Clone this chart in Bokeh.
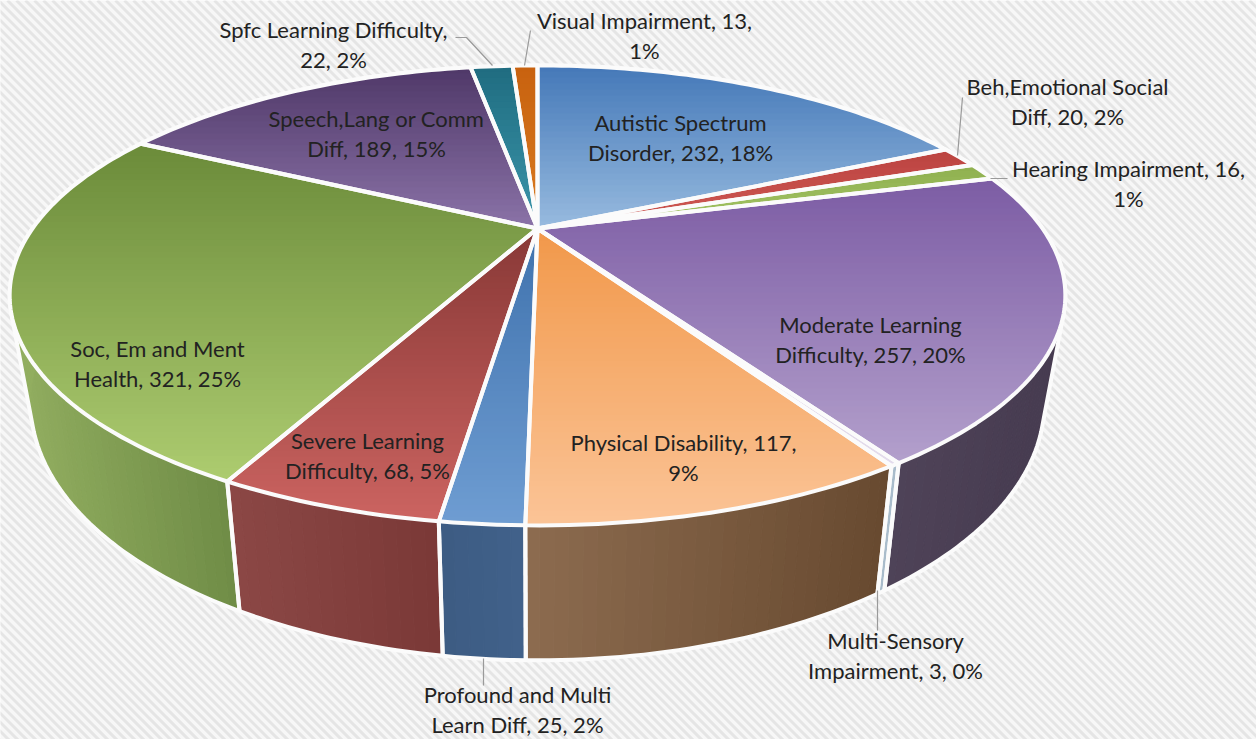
import math
from bokeh.plotting import figure
from bokeh.models import Range1d
from bokeh.core.properties import value
from bokeh.embed import file_html
from bokeh.resources import INLINE

categories = ["Autistic Spectrum Disorder", "Beh,Emotional Social Diff", "Hearing Impairment",
              "Moderate Learning Difficulty", "Multi-Sensory Impairment", "Physical Disability",
              "Profound and Multi Learn Diff", "Severe Learning Difficulty", "Soc, Em and Ment Health",
              "Speech,Lang or Comm Diff", "Spfc Learning Difficulty", "Visual Impairment"]
values = [232, 20, 16, 257, 3, 117, 25, 68, 321, 189, 22, 13]

top_dark = ["#4478b8", "#bb4340", "#8fb04f", "#7c5ca4", "#cfc4dc", "#f1984a", "#3f72ad", "#883836", "#6b8b3a", "#4f3868", "#1f6c80", "#c8620f"]
top_light = ["#98bbdf", "#d05a55", "#a4c566", "#b3a0cc", "#e4dcec", "#fbc497", "#6f9dd2", "#cc6461", "#adcc70", "#8b73a8", "#3c96ab", "#d97a20"]
wall_left = ["#000000", "#000000", "#000000", "#4f4358", "#a9bccb", "#8d6c50", "#3c5b82", "#8c4846", "#92ae60", "#000000", "#000000", "#000000"]
wall_right = ["#000000", "#000000", "#000000", "#463b50", "#a9bccb", "#684a30", "#41618a", "#7b3937", "#708d47", "#000000", "#000000", "#000000"]

label_lines = [
    ["Autistic Spectrum", "Disorder, 232, 18%"], ["Beh,Emotional Social", "Diff, 20, 2%"],
    ["Hearing Impairment, 16,", "1%"], ["Moderate Learning", "Difficulty, 257, 20%"],
    ["Multi-Sensory", "Impairment, 3, 0%"], ["Physical Disability, 117,", "9%"],
    ["Profound and Multi", "Learn Diff, 25, 2%"], ["Severe Learning", "Difficulty, 68, 5%"],
    ["Soc, Em and Ment", "Health, 321, 25%"], ["Speech,Lang or Comm", "Diff, 189, 15%"],
    ["Spfc Learning Difficulty,", "22, 2%"], ["Visual Impairment, 13,", "1%"],
]
label_x = [680, 1067, 1128, 870, 895, 683, 517, 367, 157, 376, 333, 644]
label_y = [122, 86, 168, 324, 640, 442, 694, 440, 348, 118, 29, 20]
LINE_STEP = 30

leaders = [
    ([962, 957], [97, 155]),
    ([1007, 990], [178, 178]),
    ([877, 877], [590, 630]),
    ([483, 483], [658, 685]),
    ([455, 466, 492], [37, 37, 65]),
    ([530, 524], [30, 65]),
]

K = -0.291
CX = 537
TOP = dict(a=210.5, b=505.0, cy=228.0)
BOT = dict(a=236.0, b=485.0, cy=327.0)


def project(theta, s):
    x, y = math.sin(theta), -math.cos(theta)
    w = 1 + K * y
    return CX + s["b"] * x / w, s["cy"] + s["a"] * y / w


def hex2rgb(h):
    return tuple(int(h[i:i + 2], 16) for i in (1, 3, 5))


def mix(c0, c1, t):
    t = max(0, min(1, t))
    a, b = hex2rgb(c0), hex2rgb(c1)
    return "#%02x%02x%02x" % tuple(round(a[i] + (b[i] - a[i]) * t) for i in range(3))


def clip(poly, ymin, ymax):
    def cut(pts, keep, ylim):
        out = []
        for i in range(len(pts)):
            p, q = pts[i], pts[(i + 1) % len(pts)]
            kp, kq = keep(p[1]), keep(q[1])
            if kp:
                out.append(p)
            if kp != kq:
                t = (ylim - p[1]) / (q[1] - p[1])
                out.append((p[0] + t * (q[0] - p[0]), ylim))
        return out
    pts = cut(poly, lambda y: y >= ymin, ymin)
    if pts:
        pts = cut(pts, lambda y: y <= ymax, ymax)
    return pts


def hull(points):
    pts = sorted(set(points))
    def half(seq):
        out = []
        for q in seq:
            while len(out) >= 2 and (out[-1][0] - out[-2][0]) * (q[1] - out[-2][1]) - (out[-1][1] - out[-2][1]) * (q[0] - out[-2][0]) <= 0:
                out.pop()
            out.append(q)
        return out[:-1]
    return half(pts) + half(list(reversed(pts)))


p = figure(width=1256, height=739, output_backend="svg", toolbar_location=None,
           x_range=Range1d(0, 1256), y_range=Range1d(739, 0), min_border=0)
p.axis.visible = False
p.grid.visible = False
p.outline_line_color = None
p.background_fill_color = "#f7f7f7"
p.border_fill_color = "#f7f7f7"

# striped backdrop
sx0, sx1, sy0, sy1 = [], [], [], []
for off in range(-740, 1260, 9):
    sx0.append(off); sy0.append(0); sx1.append(off + 740); sy1.append(740)
p.segment(sx0, sy0, sx1, sy1, line_color="#e5e5e5", line_width=3)

total = sum(values)
edges = [0.0]
for v in values:
    edges.append(edges[-1] + v / total * 2 * math.pi)

# side walls
wq_x, wq_y, wq_c, seam_x, seam_y = [], [], [], [], []
for i in range(len(values)):
    a0, a1 = edges[i], edges[i + 1]
    if a1 <= math.pi / 2 or a0 >= 3 * math.pi / 2:
        continue
    n = max(2, int((a1 - a0) / 0.02))
    ang = [a0 + (a1 - a0) * j / n for j in range(n + 1)]
    tp = [project(t, TOP) for t in ang]
    bt = [project(t, BOT) for t in ang]
    xmin = min(q[0] for q in bt); xmax = max(q[0] for q in bt)
    for j in range(n):
        wq_x.append([tp[j][0], tp[j + 1][0], bt[j + 1][0], bt[j][0]])
        wq_y.append([tp[j][1], tp[j + 1][1], bt[j + 1][1], bt[j][1]])
        wq_c.append(mix(wall_left[i], wall_right[i], (bt[j][0] - xmin) / max(1, xmax - xmin)))
    for q0, q1 in ((tp[0], bt[0]), (tp[-1], bt[-1])):
        seam_x.append([q0[0], q1[0]]); seam_y.append([q0[1], q1[1]])
p.patches(wq_x, wq_y, fill_color=wq_c, line_color=wq_c, line_width=1)
p.multi_line(seam_x, seam_y, line_color="#fbfbfb", line_width=4)

# outer silhouette of the whole drum
ring = [math.pi * 2 * j / 360 for j in range(360)]
outer = hull([project(t, TOP) for t in ring] + [project(t, BOT) for t in ring])
p.patch([q[0] for q in outer] + [outer[0][0]], [q[1] for q in outer] + [outer[0][1]],
        fill_color=None, line_color="#fbfbfb", line_width=4, line_join="round")

# top faces with banded vertical gradient
tx, ty, tc, ox, oy = [], [], [], [], []
BAND = 6
for i in range(len(values)):
    a0, a1 = edges[i], edges[i + 1]
    n = max(2, int((a1 - a0) / 0.02))
    poly = [(CX, TOP["cy"])] + [project(a0 + (a1 - a0) * j / n, TOP) for j in range(n + 1)]
    ys = [q[1] for q in poly]
    lo, hi = min(ys), max(ys)
    y = lo
    while y < hi:
        piece = clip(poly, y, min(y + BAND + 0.6, hi))
        if len(piece) >= 3:
            c = mix(top_dark[i], top_light[i], (y + BAND / 2 - lo) / max(1, hi - lo))
            tx.append([q[0] for q in piece]); ty.append([q[1] for q in piece]); tc.append(c)
        y += BAND
    ox.append([q[0] for q in poly]); oy.append([q[1] for q in poly])
p.patches(tx, ty, fill_color=tc, line_color=None)
p.patches(ox, oy, fill_color=None, line_color="#fbfbfb", line_width=4, line_join="round")

# leader lines
p.multi_line([l[0] for l in leaders], [l[1] for l in leaders], line_color="#9a9a9a", line_width=1.2)

# labels
tx_, ty_, tt_ = [], [], []
for lines, x, y in zip(label_lines, label_x, label_y):
    for j, line in enumerate(lines):
        tx_.append(x); ty_.append(y + j * LINE_STEP); tt_.append(line)
p.text(tx_, ty_, text=tt_, text_font=value("Lato"), text_font_size="22px", text_color="#222222",
       text_align="center", text_baseline="middle")

open("out.html", "w").write(file_html(p, INLINE))
